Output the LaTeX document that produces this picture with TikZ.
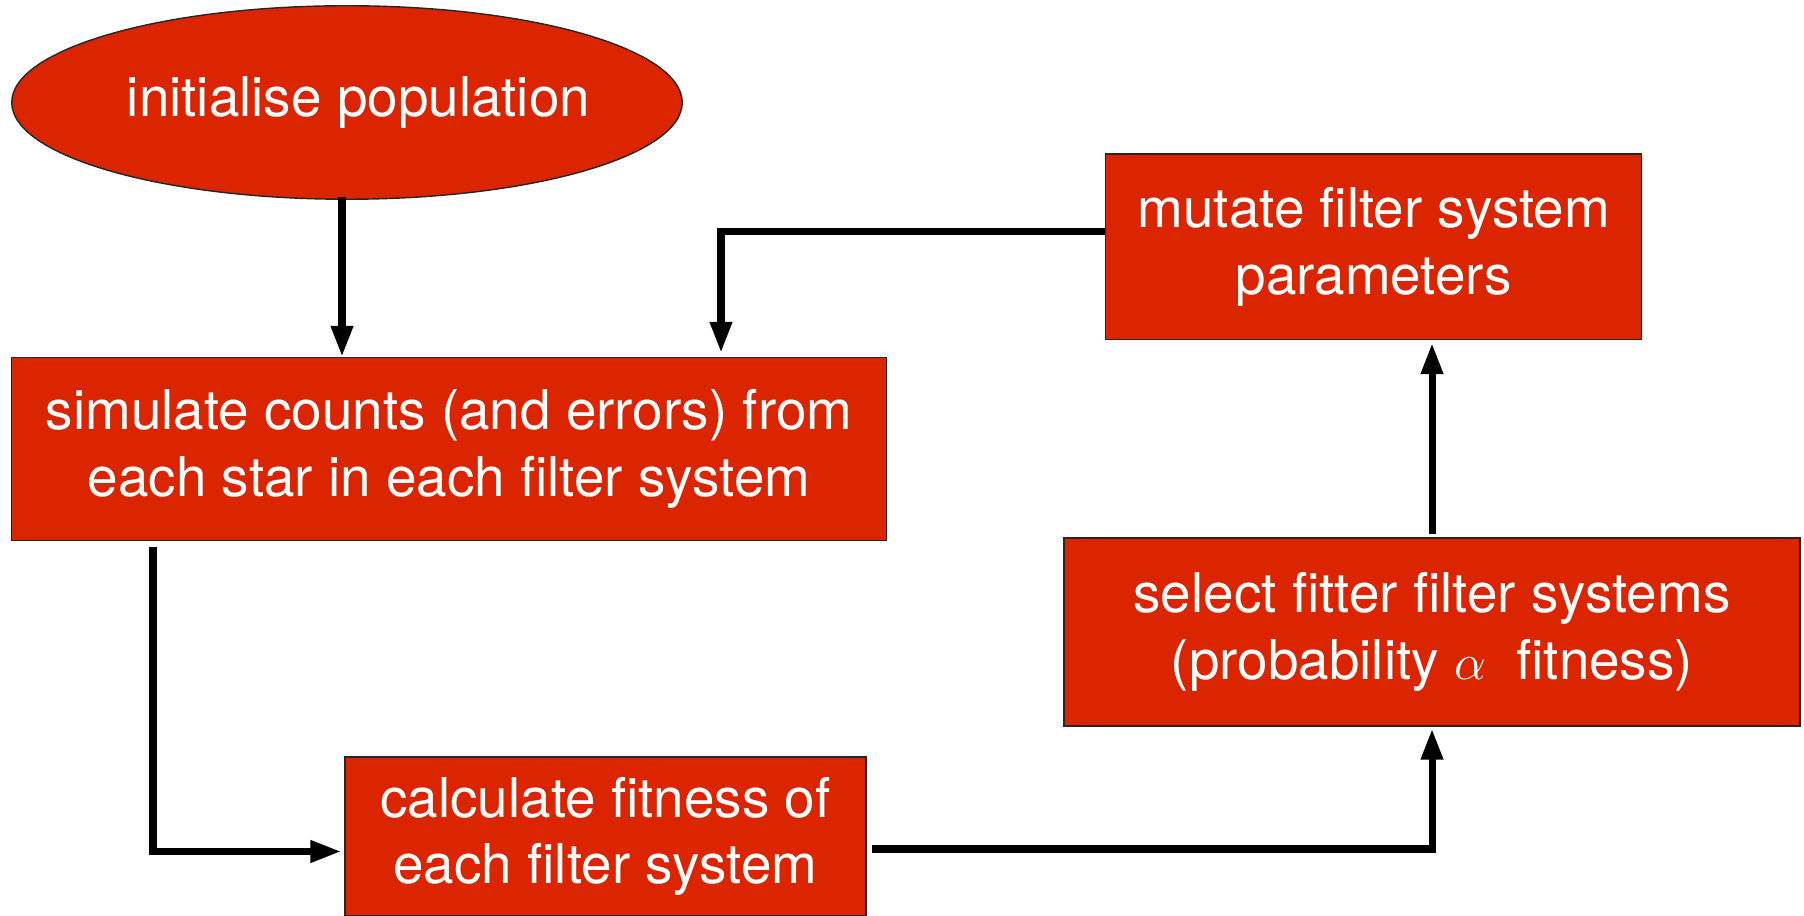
\documentclass[tikz,border=0pt]{standalone}
\usepackage{fontspec}
\setmainfont{TeX Gyre Heros}
\usepackage{xcolor}
\usepackage{tikz}
\usetikzlibrary{arrows.meta,positioning,calc,shapes.geometric}
\definecolor{gared}{RGB}{219,36,0}

\begin{document}
\begin{tikzpicture}[>={Triangle[width=0.21cm,length=0.31cm]},
    gabox/.style={rectangle, draw=black!85, line width=0.4pt, fill=gared, text=white,
        align=center, inner sep=0pt, font=\fontsize{15.6}{19}\selectfont},
    gastart/.style={ellipse, draw=black!85, line width=0.4pt, fill=gared, text=white,
        inner sep=0pt, font=\fontsize{15.6}{19}\selectfont},
    flow/.style={->, line width=2pt}]

        \useasboundingbox (0,0) rectangle (18.04,-9.16);

        % Nodes
        \node[gastart, minimum width=6.705cm, minimum height=1.935cm] (init) at (3.47,-1.025)
            {\makebox[0pt]{\hspace*{0.23cm}initialise population}};
        \node[gabox, minimum width=8.755cm, minimum height=1.83cm] (sim) at (4.49,-4.49)
            {simulate counts (and errors) from\\each star in each filter system};
        \node[gabox, minimum width=5.21cm, minimum height=1.59cm] (calc) at (6.055,-8.365)
            {calculate fitness of\\each filter system};
        \node[gabox, minimum width=7.36cm, minimum height=1.88cm] (sel) at (14.32,-6.32)
            {select fitter filter systems\\(probability $\alpha$~ fitness)};
        \node[gabox, minimum width=5.36cm, minimum height=1.854cm] (mut) at (13.737,-2.467)
            {mutate filter system\\parameters};

        % Arrows
        \draw[flow] ([xshift=-0.05cm,yshift=0.03cm]init.south) -- ([xshift=-0.05cm]init.south |- sim.north);
        \draw[flow, shorten >=0.04cm] ([yshift=0.15cm]mut.west) -| ([xshift=2.72cm]sim.north);
        \draw[flow, shorten >=0.03cm] ([xshift=-2.96cm,yshift=-0.06cm]sim.south) |- ([yshift=-0.15cm]calc.west);
        \draw[flow, shorten >=0.02cm] ([xshift=0.05cm,yshift=-0.125cm]calc.east) -| (sel.south);
        \draw[flow, shorten <=0.03cm, shorten >=0.03cm] (sel.north) -- (sel.north |- mut.south);

    \end{tikzpicture}
\end{document}
